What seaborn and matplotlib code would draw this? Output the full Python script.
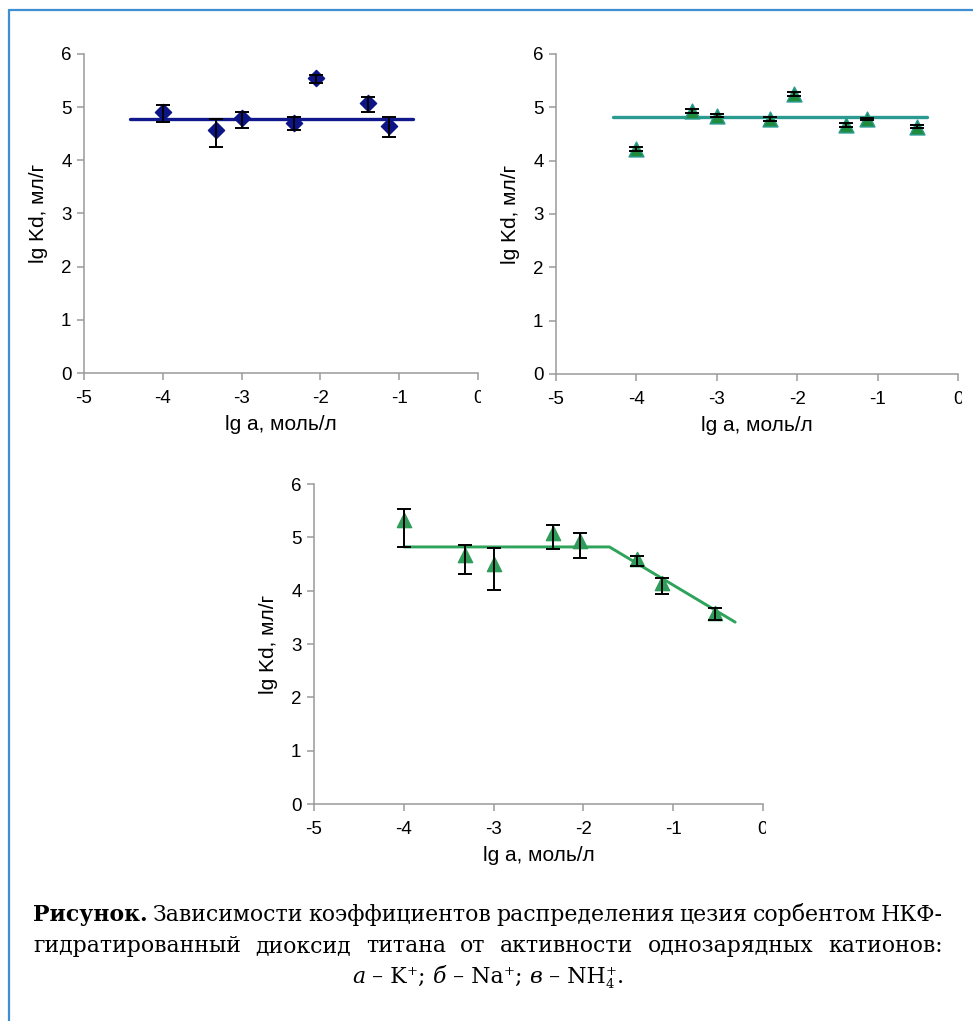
import numpy as np
import pandas as pd
import matplotlib
matplotlib.use("Agg")
import matplotlib.pyplot as plt
import seaborn as sns
from matplotlib.lines import Line2D
from matplotlib.transforms import Bbox

sns.set_theme(style="ticks")
plt.rcParams['font.family'] = ['Liberation Sans', 'DejaVu Sans']
plt.rcParams['axes.unicode_minus'] = False

# ---- данные ----
x_ticks = [-5, -4, -3, -2, -1, 0]
y_ticks = [0, 1, 2, 3, 4, 5, 6]
x_label = "lg a, моль/л"
y_label = "lg Kd, мл/г"

# а - K+
k_x = [-4.0, -3.32, -3.0, -2.34, -2.05, -1.39, -1.13]
k_y = [4.91, 4.57, 4.79, 4.70, 5.55, 5.08, 4.64]
k_lo = [0.18, 0.32, 0.18, 0.13, 0.09, 0.18, 0.21]
k_hi = [0.13, 0.20, 0.11, 0.12, 0.06, 0.11, 0.18]
k_fit_x = [-4.41, -0.83]
k_fit_y = [4.78, 4.78]

# б - Na+
na_x = [-4.0, -3.31, -3.0, -2.34, -2.04, -1.39, -1.13, -0.51]
na_y = [4.22, 4.93, 4.84, 4.78, 5.25, 4.67, 4.78, 4.64]
na_err = [0.03, 0.03, 0.03, 0.03, 0.03, 0.03, 0.02, 0.02]
na_fit_x = [-4.29, -0.39]
na_fit_y = [4.82, 4.82]

# в - NH4+
nh_x = [-4.0, -3.32, -3.0, -2.34, -2.04, -1.40, -1.12, -0.53]
nh_y = [5.33, 4.67, 4.50, 5.08, 4.93, 4.59, 4.15, 3.58]
nh_lo = [0.51, 0.36, 0.49, 0.30, 0.31, 0.12, 0.22, 0.13]
nh_hi = [0.20, 0.18, 0.30, 0.15, 0.16, 0.06, 0.09, 0.09]
nh_fit_x = [-4.0, -1.71, -0.31]
nh_fit_y = [4.82, 4.82, 3.41]

W, H = 973, 1021
fig = plt.figure(figsize=(W / 100, H / 100), dpi=100)
fig.patch.set_facecolor('white')


def px_axes(left, top, right, bottom):
    return fig.add_axes([left / W, 1 - bottom / H, (right - left) / W, (bottom - top) / H])


def style(ax):
    ax.set_xlim(-5, 0)
    ax.set_ylim(0, 6)
    ax.set_xticks(x_ticks)
    ax.set_yticks(y_ticks)
    sns.despine(ax=ax)
    for s in ['left', 'bottom']:
        ax.spines[s].set_color('#9a9a9a')
        ax.spines[s].set_linewidth(1.1)
    ax.tick_params(axis='both', color='#9a9a9a', length=5, width=1.1,
                   labelsize=13.5, labelcolor='black')
    ax.tick_params(axis='x', pad=7)
    ax.tick_params(axis='y', pad=4)
    ax.set_xlabel(x_label, fontsize=15, labelpad=6, color='black')
    ax.set_ylabel(y_label, fontsize=15, labelpad=9, color='black')
    ax.set_facecolor('white')


def panel(ax, x, y, lo, hi, fit_x, fit_y, marker, size, mcolor, ecolor, lcolor, lw):
    df = pd.DataFrame({'lg_a': x, 'lgKd': y})
    fit = pd.DataFrame({'lg_a': fit_x, 'lgKd': fit_y})
    sns.lineplot(data=fit, x='lg_a', y='lgKd', color=lcolor, linewidth=lw,
                 sort=False, ax=ax, zorder=2)
    sns.scatterplot(data=df, x='lg_a', y='lgKd', marker=marker, s=size,
                    color=mcolor, edgecolor=ecolor, linewidth=1, ax=ax, zorder=3)
    ax.errorbar(x, y, yerr=[lo, hi], fmt='none', ecolor='black',
                elinewidth=1.4, capsize=4.8, capthick=1.4, zorder=4)
    style(ax)


ax_a = px_axes(84, 54, 478, 373)
ax_b = px_axes(556, 54, 958, 374)
ax_c = px_axes(314, 484, 763, 804)

panel(ax_a, k_x, k_y, k_lo, k_hi, k_fit_x, k_fit_y, 'D', 68,
      '#0c1486', '#0c1486', '#10188c', 2.4)
panel(ax_b, na_x, na_y, na_err, na_err, na_fit_x, na_fit_y, '^', 115,
      '#1e8c3c', '#2a9a92', '#2b9a90', 2.4)
panel(ax_c, nh_x, nh_y, nh_lo, nh_hi, nh_fit_x, nh_fit_y, '^', 105,
      '#2f9c5a', '#2f9c5a', '#2ea35a', 2.1)

# обрезанная справа подпись "0", как на исходной картинке
for ax, xcut in [(ax_a, 481), (ax_b, 962), (ax_c, 766)]:
    lab = ax.xaxis.get_major_ticks()[-1].label1
    lab.set_clip_on(True)
    lab.set_clip_box(Bbox([[0, 0], [xcut, H]]))

# голубая рамка
frame_col = '#3d8fd1'
fig.add_artist(Line2D([9 / W, 9 / W], [1 - 10 / H, 0], color=frame_col, lw=1.6,
                      transform=fig.transFigure))
fig.add_artist(Line2D([9 / W, 1], [1 - 10 / H, 1 - 10 / H], color=frame_col, lw=1.6,
                      transform=fig.transFigure))

# ---- подпись к рисунку ----
cap_family = ['DejaVu Serif']
cap_size = 15.8
x_left, x_right = 33, 943
renderer = fig.canvas.get_renderer()


def justify(words, y_px):
    texts = [fig.text(0, 1 - y_px / H, w, fontweight=wt, family=cap_family,
                      fontsize=cap_size, va='baseline', ha='left', color='black')
             for w, wt in words]
    widths = [t.get_window_extent(renderer).width for t in texts]
    gap = (x_right - x_left - sum(widths)) / (len(texts) - 1)
    x = x_left
    for t, w in zip(texts, widths):
        t.set_x(x / W)
        x += w + gap


line1 = [("Рисунок.", "bold")] + [(w, "normal") for w in
         "Зависимости коэффициентов распределения цезия сорбентом НКФ-".split()]
line2 = [(w, "normal") for w in
         "гидратированный диоксид титана от активности однозарядных катионов:".split()]
justify(line1, 921)
justify(line2, 952)

# третья строка: а – K+; б – Na+; в – NH4+.
pieces = [("а", "italic"), (" – K", "normal"), ("+", "sup"), ("; ", "normal"),
          ("б", "italic"), (" – Na", "normal"), ("+", "sup"), ("; ", "normal"),
          ("в", "italic"), (" – NH", "normal"), ("4", "sub"), ("+", "sup"),
          (".", "normal")]
y3 = 983
arts = []
for txt, kind in pieces:
    size = cap_size * (0.6 if kind in ("sup", "sub") else 1.0)
    dy = {"sup": -8, "sub": 5}.get(kind, 0)
    t = fig.text(0, 1 - (y3 + dy) / H, txt, family=cap_family, fontsize=size,
                 fontstyle='italic' if kind == "italic" else 'normal',
                 va='baseline', ha='left', color='black')
    arts.append((t, kind))
widths = [t.get_window_extent(renderer).width for t, _ in arts]
# индекс 4 и знак + стоят друг над другом
adv = []
for i, (t, kind) in enumerate(arts):
    if kind == "sub" and i + 1 < len(arts) and arts[i + 1][1] == "sup":
        adv.append(0)
    else:
        adv.append(widths[i])
total = sum(adv)
x = (x_left + x_right) / 2 - total / 2
for (t, kind), a in zip(arts, adv):
    t.set_x(x / W)
    x += a

fig.savefig("out.png", dpi=100, facecolor='white')
